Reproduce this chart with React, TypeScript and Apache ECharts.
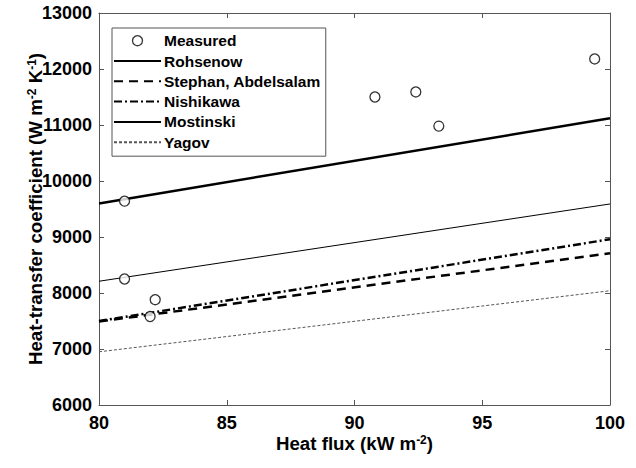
import React, { useEffect, useRef } from "react";
import * as echarts from "echarts";

const xRange = [80, 100];
const rohsenow = [9600, 11120];
const stephan = [7490, 8710];
const nishikawa = [7500, 8960];
const mostinski = [8210, 9590];
const yagov = [6950, 8040];
const measuredX = [81.0, 81.0, 82.0, 82.2, 90.8, 92.4, 93.3, 99.4];
const measuredY = [9640, 8250, 7580, 7880, 11500, 11590, 10980, 12180];
const seriesNames = ["Measured", "Rohsenow", "Stephan, Abdelsalam", "Nishikawa", "Mostinski", "Yagov"];

const FONT = "'Liberation Sans', Arial, sans-serif";

export default function App() {
  const ref = useRef<HTMLDivElement>(null);
  useEffect(() => {
    if (!ref.current) return;
    const chart = echarts.init(ref.current, null, { renderer: "svg" });
    const line = (vals: number[]) => xRange.map((x, i) => [x, vals[i]]);
    const axisLineStyle = { color: "#555", width: 1 };
    const titleRich = {
      a: { fontFamily: FONT, fontWeight: "bold", fontSize: 18.7, color: "#000", lineHeight: 19 },
      s: { fontFamily: FONT, fontWeight: "bold", fontSize: 12, color: "#000", verticalAlign: "top", lineHeight: 19, padding: [0, 0, 8, 0] },
    };
    const hidden = { color: "rgba(0,0,0,0)", borderWidth: 0, opacity: 0 };
    chart.setOption({
      animation: false,
      backgroundColor: "#fff",
      textStyle: { fontFamily: FONT },
      grid: { left: 99, right: 26, top: 13, bottom: 63, containLabel: false },
      legend: {
        data: seriesNames.map((n, i) =>
          i === 0
            ? { name: n, itemStyle: { color: "#fff", borderColor: "#000", borderWidth: 1.3 } }
            : { name: n, itemStyle: hidden }
        ),
        orient: "vertical",
        left: 112,
        top: 28,
        itemWidth: 47,
        itemHeight: 10,
        itemGap: 4.3,
        padding: [4.7, 5, 6, 1],
        borderColor: "#555",
        borderWidth: 1,
        backgroundColor: "#fff",
        textStyle: { fontFamily: FONT, fontWeight: "bold", fontSize: 15.5, lineHeight: 16, color: "#000", padding: [0, 0, 0, -2] },
      },
      xAxis: [
        {
          type: "value",
          min: 80,
          max: 100,
          interval: 5,
          name: "{a|Heat flux (kW m}{s|-2}{a|)}",
          nameLocation: "middle",
          nameGap: 29,
          nameMoveOverlap: false,
          nameTextStyle: { rich: titleRich },
          axisLine: { lineStyle: axisLineStyle },
          axisTick: { inside: true, length: 5, lineStyle: axisLineStyle },
          axisLabel: { fontFamily: FONT, fontWeight: "bold", fontSize: 18, lineHeight: 18, color: "#000", margin: 9 },
          splitLine: { show: false },
        },
        {
          type: "value",
          position: "top",
          min: 80,
          max: 100,
          interval: 5,
          axisLine: { show: true, lineStyle: axisLineStyle },
          axisTick: { show: true, inside: true, length: 5, lineStyle: axisLineStyle },
          axisLabel: { show: false },
          splitLine: { show: false },
        },
      ],
      yAxis: [
        {
          type: "value",
          min: 6000,
          max: 13000,
          interval: 1000,
          name: "{a|Heat-transfer coefficient (W m}{s|-2}{a| K}{s|-1}{a|)}",
          nameLocation: "middle",
          nameGap: 54,
          nameMoveOverlap: false,
          nameRotate: 90,
          nameTextStyle: { rich: titleRich },
          axisLine: { show: true, lineStyle: axisLineStyle },
          axisTick: { show: true, inside: true, length: 5, lineStyle: axisLineStyle },
          axisLabel: { fontFamily: FONT, fontWeight: "bold", fontSize: 18, color: "#000", margin: 7, formatter: (v: number) => String(v) },
          splitLine: { show: false },
        },
        {
          type: "value",
          position: "right",
          min: 6000,
          max: 13000,
          interval: 1000,
          axisLine: { show: true, lineStyle: axisLineStyle },
          axisTick: { show: true, inside: true, length: 5, lineStyle: axisLineStyle },
          axisLabel: { show: false },
          splitLine: { show: false },
        },
      ],
      series: [
        {
          name: "Measured",
          type: "scatter",
          data: measuredX.map((x, i) => [x, measuredY[i]]),
          symbol: "circle",
          symbolSize: 10,
          itemStyle: { color: "#fff", borderColor: "#000", borderWidth: 1.3 },
          z: 5,
        },
        {
          name: "Rohsenow",
          type: "line",
          data: line(rohsenow),
          symbol: "none",
          lineStyle: { color: "#000", width: 2.5, type: "solid" },
          itemStyle: { color: "#000" },
        },
        {
          name: "Stephan, Abdelsalam",
          type: "line",
          data: line(stephan),
          symbol: "none",
          lineStyle: { color: "#000", width: 2.5, type: [9, 6] },
          itemStyle: { color: "#000" },
        },
        {
          name: "Nishikawa",
          type: "line",
          data: line(nishikawa),
          symbol: "none",
          lineStyle: { color: "#000", width: 2.5, type: [8, 3, 2, 3] },
          itemStyle: { color: "#000" },
        },
        {
          name: "Mostinski",
          type: "line",
          data: line(mostinski),
          symbol: "none",
          lineStyle: { color: "#000", width: 1, type: "solid" },
          itemStyle: { color: "#000" },
        },
        {
          name: "Yagov",
          type: "line",
          data: line(yagov),
          symbol: "none",
          lineStyle: { color: "#555", width: 1, type: [3, 2] },
          itemStyle: { color: "#555" },
        },
      ],
    });
    return () => chart.dispose();
  }, []);
  return <div ref={ref} style={{ width: 636, height: 468, position: "absolute", left: 0, top: 0 }} />;
}
